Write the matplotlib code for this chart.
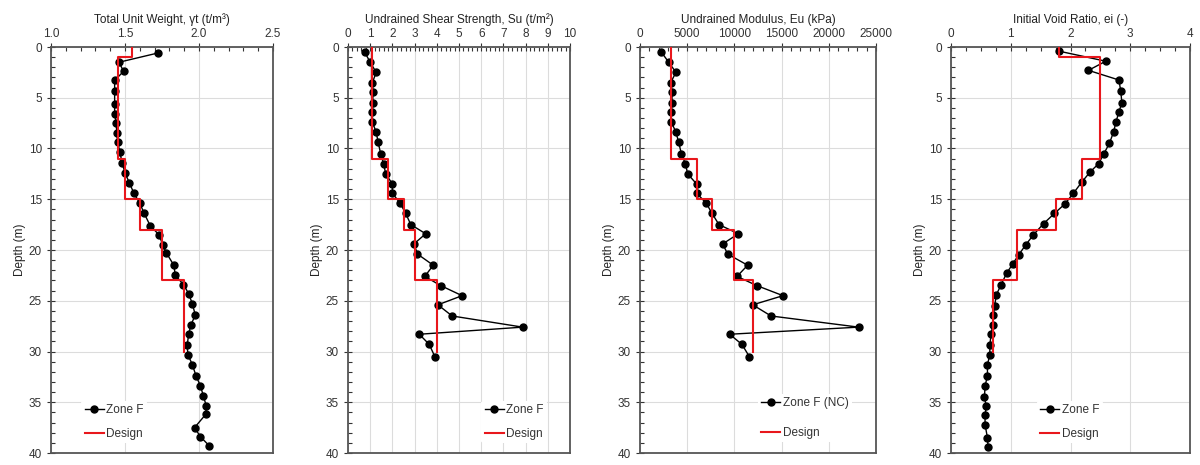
import matplotlib
matplotlib.use("Agg")
import matplotlib.pyplot as plt
from matplotlib.ticker import MultipleLocator

plt.rcParams['font.family'] = ['Liberation Sans', 'DejaVu Sans']
plt.rcParams['font.size'] = 8.5

# total unit weight (t/m3)
gamma_depth = [0.6, 1.5, 2.4, 3.3, 4.3, 5.6, 6.6, 7.5, 8.5, 9.4, 10.3, 11.4, 12.4, 13.4,
               14.4, 15.4, 16.4, 17.6, 18.5, 19.5, 20.3, 21.5, 22.5, 23.4, 24.3, 25.3,
               26.4, 27.4, 28.3, 29.4, 30.3, 31.3, 32.4, 33.4, 34.4, 35.4, 36.2, 37.5,
               38.4, 39.3]
gamma = [1.72, 1.46, 1.49, 1.43, 1.43, 1.43, 1.43, 1.44, 1.445, 1.45, 1.465, 1.48, 1.50,
         1.53, 1.56, 1.60, 1.63, 1.67, 1.73, 1.755, 1.78, 1.83, 1.84, 1.895, 1.93, 1.955,
         1.975, 1.945, 1.93, 1.92, 1.925, 1.955, 1.98, 2.01, 2.03, 2.05, 2.045, 1.97,
         2.01, 2.07]
gamma_design = [1.55, 1.45, 1.50, 1.60, 1.75, 1.90]
gamma_layers = [0, 1, 11, 15, 18, 23, 30]

# undrained shear strength (t/m2) and modulus (kPa)
su_depth = [0.5, 1.5, 2.5, 3.5, 4.4, 5.5, 6.4, 7.4, 8.4, 9.4, 10.5, 11.5, 12.5, 13.5,
            14.4, 15.4, 16.4, 17.5, 18.4, 19.4, 20.4, 21.5, 22.6, 23.5, 24.5, 25.4,
            26.5, 27.6, 28.3, 29.3, 30.5]
su = [0.75, 1.0, 1.27, 1.1, 1.12, 1.12, 1.1, 1.1, 1.27, 1.36, 1.47, 1.6, 1.7, 2.0, 2.0,
      2.35, 2.6, 2.83, 3.5, 2.97, 3.13, 3.84, 3.46, 4.17, 5.14, 4.05, 4.69, 7.87, 3.21,
      3.66, 3.91]
su_design = [1.1, 1.8, 2.5, 3.0, 4.0]
eu = [2260, 3040, 3810, 3250, 3390, 3390, 3320, 3320, 3810, 4100, 4380, 4800, 5050,
      6000, 6000, 7030, 7630, 8370, 10420, 8760, 9290, 11400, 10280, 12360, 15150,
      11940, 13880, 23160, 9500, 10800, 11580]
eu_design = [3300, 6000, 7600, 10000, 12000]
su_layers = [0, 11, 15, 18, 23, 30]

# initial void ratio
e_depth = [0.4, 1.4, 2.3, 3.25, 4.3, 5.5, 6.4, 7.4, 8.4, 9.5, 10.5, 11.5, 12.3, 13.3,
           14.4, 15.5, 16.4, 17.4, 18.5, 19.5, 20.5, 21.4, 22.3, 23.4, 24.4, 25.5,
           26.4, 27.4, 28.3, 29.4, 30.3, 31.3, 32.4, 33.4, 34.5, 35.4, 36.3, 37.2,
           38.5, 39.4]
e0 = [1.80, 2.59, 2.30, 2.81, 2.84, 2.86, 2.81, 2.76, 2.72, 2.65, 2.56, 2.47, 2.33,
      2.19, 2.05, 1.90, 1.73, 1.55, 1.38, 1.25, 1.13, 1.03, 0.93, 0.84, 0.76, 0.73,
      0.71, 0.70, 0.67, 0.65, 0.65, 0.61, 0.61, 0.57, 0.56, 0.59, 0.57, 0.57, 0.61,
      0.62]
e_design = [1.8, 2.5, 2.2, 1.75, 1.1, 0.7]
e_layers = [0, 1, 11, 15, 18, 23, 30]


def steps(values, layers):
    xs, ys = [], []
    for i, v in enumerate(values):
        xs += [v, v]
        ys += [layers[i], layers[i + 1]]
    return xs, ys


panels = [
    dict(rect=[51, 222], x=gamma, y=gamma_depth, d=gamma_design, l=gamma_layers,
         xlim=(1.0, 2.5), major=0.5, minor=0.1, fmt='%.1f',
         title='Total Unit Weight, \u03b3t (t/m\u00b3)', zone='Zone F',
         leg=(82, 422)),
    dict(rect=[348, 222], x=su, y=su_depth, d=su_design, l=su_layers,
         xlim=(0, 10), major=1, minor=0.2, fmt='%d',
         title='Undrained Shear Strength, Su (t/m\u00b2)', zone='Zone F',
         leg=(482, 422)),
    dict(rect=[640, 236], x=eu, y=su_depth, d=eu_design, l=su_layers,
         xlim=(0, 25000), major=5000, minor=1000, fmt='%d',
         title='Undrained Modulus, Eu (kPa)', zone='Zone F (NC)',
         leg=(759, 418)),
    dict(rect=[951, 239], x=e0, y=e_depth, d=e_design, l=e_layers,
         xlim=(0, 4), major=1, minor=0.25, fmt='%d',
         title='Initial Void Ratio, ei (-)', zone='Zone F',
         leg=(1038, 422)),
]

W, H = 1200, 465
fig = plt.figure(figsize=(W / 100, H / 100), dpi=100)
top, bot = 47, 453

for p in panels:
    left, width = p['rect']
    ax = fig.add_axes([left / W, (H - bot) / H, width / W, (bot - top) / H])
    ax.plot(p['x'], p['y'], '-o', color='black', lw=1, ms=5, label=p['zone'], zorder=3)
    sx, sy = steps(p['d'], p['l'])
    ax.plot(sx, sy, color='#e8171c', lw=1.5, label='Design', zorder=4)

    ax.set_xlim(*p['xlim'])
    ax.set_ylim(40, 0)
    ax.xaxis.tick_top()
    ax.xaxis.set_label_position('top')
    ax.set_xlabel(p['title'], labelpad=4, color='#222222')
    ax.set_ylabel('Depth (m)', color='#222222', labelpad=2)
    ax.xaxis.set_major_locator(MultipleLocator(p['major']))
    ax.xaxis.set_minor_locator(MultipleLocator(p['minor']))
    ax.xaxis.set_major_formatter(matplotlib.ticker.FormatStrFormatter(p['fmt']))
    ax.yaxis.set_major_locator(MultipleLocator(5))
    ax.yaxis.set_minor_locator(MultipleLocator(1))
    ax.tick_params(which='major', direction='inout', length=6, width=0.8,
                   colors='#333333', labelcolor='#333333', labelsize=8.5)
    ax.tick_params(which='minor', direction='in', length=3, width=0.8, colors='#333333')
    ax.tick_params(axis='x', which='both', top=True, bottom=False)
    ax.tick_params(axis='x', which='major', pad=2)
    ax.grid(True, which='major', color='#dcdcdc', lw=0.8)
    ax.set_axisbelow(True)
    for sp in ax.spines.values():
        sp.set_color('#555555')
        sp.set_linewidth(1.3)

    lx, ly = p['leg']
    spacing = 1.5 if p['zone'] == 'Zone F (NC)' else 1.0
    ax.legend(loc='center left',
              bbox_to_anchor=((lx - left) / width - 0.03, (bot - ly) / (bot - top)),
              frameon=True, facecolor='white', edgecolor='none', framealpha=1,
              handlelength=1.6, handletextpad=0.2, labelspacing=spacing,
              borderpad=0.3, fontsize=8.5, labelcolor='#333333')

fig.savefig('out.png', dpi=100)
